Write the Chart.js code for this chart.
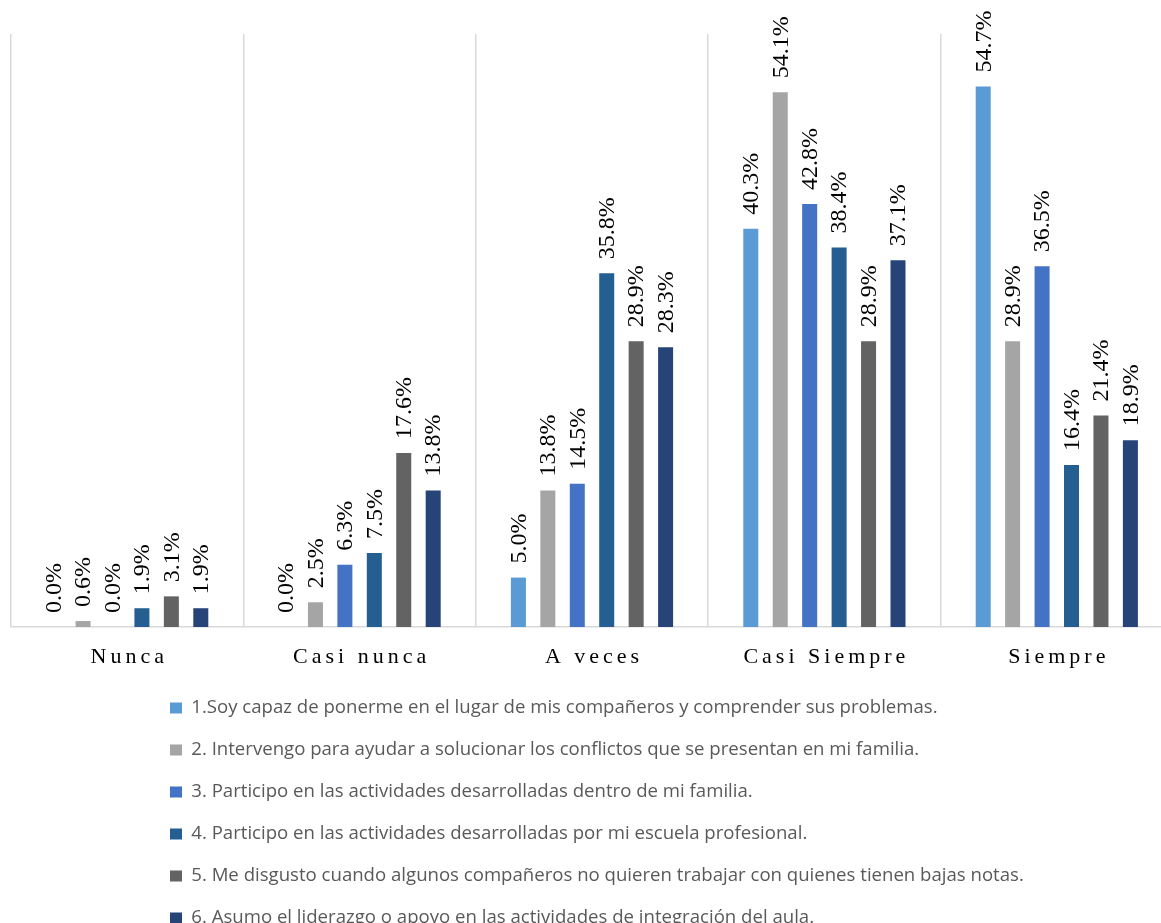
<!DOCTYPE html>
<html><head><meta charset="utf-8">
<script src="https://cdn.jsdelivr.net/npm/chart.js@4/dist/chart.umd.min.js"></script>
<style>
html,body{margin:0;padding:0;overflow:hidden;background:#fff;width:1161px;height:923px}
#wrap{position:absolute;left:0;top:0;width:1180px;height:975px}
</style>
</head><body><div id="wrap"><canvas id="c"></canvas></div>
<script>
const categories = ["Nunca", "Casi nunca", "A veces", "Casi Siempre", "Siempre"];
const seriesNames = [
  "1.Soy capaz de ponerme en el lugar de mis compañeros y comprender sus problemas.",
  "2. Intervengo para ayudar a solucionar los conflictos que se presentan en mi familia.",
  "3. Participo en las actividades desarrolladas dentro de mi familia.",
  "4. Participo en las actividades desarrolladas por mi escuela profesional.",
  "5. Me disgusto cuando algunos compañeros no quieren trabajar con quienes tienen bajas notas.",
  "6. Asumo el liderazgo o apoyo en las actividades de integración del aula."
];
const serie1 = [0.0, 0.0, 5.0, 40.3, 54.7];
const serie2 = [0.6, 2.5, 13.8, 54.1, 28.9];
const serie3 = [0.0, 6.3, 14.5, 42.8, 36.5];
const serie4 = [1.9, 7.5, 35.8, 38.4, 16.4];
const serie5 = [3.1, 17.6, 28.9, 28.9, 21.4];
const serie6 = [1.9, 13.8, 28.3, 37.1, 18.9];
const seriesValues = [serie1, serie2, serie3, serie4, serie5, serie6];
const seriesColors = ["#5B9BD5", "#A5A5A5", "#4472C4", "#255E91", "#636363", "#264478"];

const datasets = seriesValues.map((vals, i) => ({
  label: seriesNames[i],
  data: vals,
  backgroundColor: seriesColors[i],
  borderWidth: 0,
  barPercentage: 0.51,
  categoryPercentage: 0.76
}));

const customPlugin = {
  id: 'custom',
  afterLayout(chart) {
    const lg = chart.legend;
    if (lg) { lg.left = 170 - lg.options.labels.padding; }
  },
  afterDatasetsDraw(chart) {
    const ctx = chart.ctx;
    chart.data.datasets.forEach((ds, di) => {
      const meta = chart.getDatasetMeta(di);
      meta.data.forEach((el, i) => {
        const v = ds.data[i];
        ctx.save();
        ctx.translate(el.x, el.y - 14);
        ctx.rotate(-Math.PI / 2);
        ctx.font = '24px "Liberation Serif"';
        ctx.fillStyle = '#000';
        ctx.textAlign = 'left';
        ctx.textBaseline = 'middle';
        ctx.fillText(v.toFixed(1) + '%', 0, 1);
        ctx.restore();
      });
    });
  },
  afterDraw(chart) {
    const ctx = chart.ctx;
    const xs = chart.scales.x;
    ctx.save();
    ctx.font = '22px "Liberation Serif"';
    ctx.fillStyle = '#000';
    ctx.textAlign = 'center';
    ctx.textBaseline = 'alphabetic';
    ctx.letterSpacing = '4px';
    xs.ticks.forEach((t, i) => {
      ctx.fillText(categories[i], xs.getPixelForTick(i) + 2, xs.top + 36);
    });
    ctx.restore();
  }
};

new Chart(document.getElementById('c'), {
  type: 'bar',
  data: { labels: categories, datasets },
  plugins: [customPlugin],
  options: {
    responsive: true,
    maintainAspectRatio: false,
    animation: false,
    devicePixelRatio: 1,
    layout: { padding: { left: 11, right: 7, top: 34, bottom: 37.7 } },
    plugins: {
      tooltip: { enabled: false },
      legend: {
        position: 'bottom',
        align: 'start',
        labels: {
          boxWidth: 12, boxHeight: 11, padding: 23.4,
          color: '#595959',
          font: { family: '"Open Sans"', size: 18.6 }
        }
      }
    },
    scales: {
      x: {
        offset: true,
        grid: { display: true, offset: true, color: '#d9d9d9', lineWidth: 1.5, drawTicks: false },
        border: { color: '#d9d9d9', width: 1.5 },
        ticks: { color: 'rgba(0,0,0,0)', font: { family: '"Liberation Serif"', size: 22 }, padding: 10 },
        afterFit: s => { s.height = 48.3; }
      },
      y: { display: false, min: 0, max: 60 }
    }
  }
});
</script>
</body></html>
